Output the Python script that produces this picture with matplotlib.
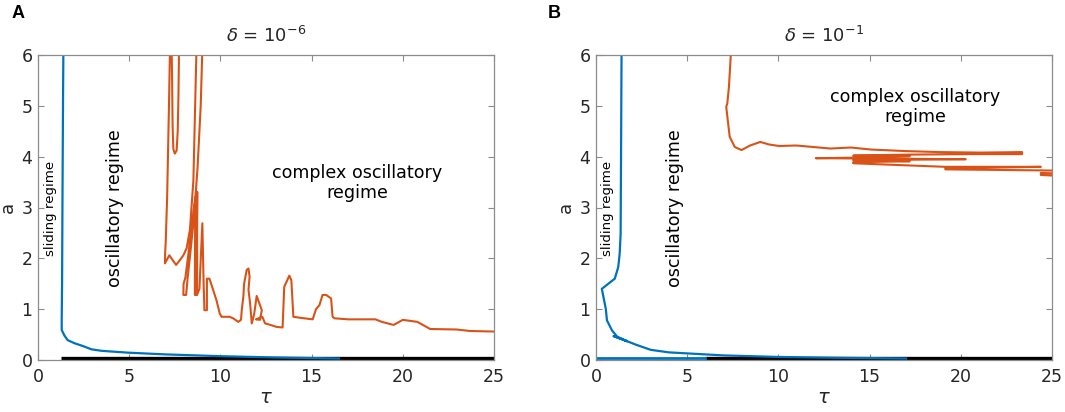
import numpy as np
from matplotlib import pyplot as plt

# ---- data ----
# panel A, delta = 1e-6
blue_a_tau = [1.39, 1.37, 1.34, 1.32, 1.30, 1.30, 1.45, 1.63, 2.0, 2.5, 2.93, 3.5, 4.96, 7.0, 10.0, 13.0, 16.5]
blue_a_a = [6.0, 5.0, 3.0, 1.5, 0.8, 0.59, 0.48, 0.39, 0.33, 0.27, 0.21, 0.18, 0.144, 0.11, 0.075, 0.05, 0.03]
black_a_tau = [1.26, 25.0]
black_a_a = [0.03, 0.03]
red_a_tau = [7.75, 7.70, 7.66, 7.60, 7.50, 7.42, 7.38, 7.35, 7.30,
             7.26, 7.18, 7.08, 7.00, 6.97, 6.96, 7.20, 7.57, 7.79, 7.97, 8.15, 8.33, 8.52, 8.72,
             9.05, 8.92, 8.75, 8.55, 8.35, 8.20, 8.12, 7.97, 7.98, 8.08, 8.25, 8.45, 8.62, 8.60,
             8.68, 8.73, 8.72, 8.85, 9.01, 9.08, 9.12, 9.12, 9.26, 9.26, 9.40, 9.60, 9.78, 9.96, 10.06,
             10.5, 10.7, 10.98, 11.13, 11.17, 11.26, 11.30, 11.44, 11.54, 11.60, 11.54, 11.63, 11.72, 11.85,
             11.99, 12.27, 12.17, 11.95, 12.30, 12.45, 12.74, 13.09, 13.41, 13.50, 13.78, 13.89, 14.0, 14.6,
             15.06, 15.24, 15.43, 15.6, 15.8, 16.07, 16.15, 16.26, 17.0, 18.5, 18.85, 19.5, 20.0, 20.8, 21.5,
             22.95, 23.7, 25.0]
red_a_a = [6.6, 5.2, 4.5, 4.12, 4.06, 4.15, 4.6, 5.6, 6.6,
           6.6, 5.0, 3.2, 2.3, 2.1, 1.9, 2.06, 1.87, 1.97, 2.06, 2.2, 2.56, 3.54, 6.6,
           6.6, 5.0, 3.8, 2.8, 2.1, 1.6, 1.28, 1.28, 1.5, 1.62, 2.1, 2.7, 3.2, 1.28,
           1.28, 3.31, 1.28, 1.4, 2.69, 1.5, 1.04, 0.98, 0.98, 1.6, 1.6, 1.38, 1.18, 0.92, 0.85,
           0.85, 0.82, 0.75, 0.79, 0.98, 1.25, 1.5, 1.77, 1.8, 1.64, 1.38, 1.11, 0.72, 0.9,
           1.26, 0.98, 0.79, 0.8, 0.85, 0.72, 0.69, 0.65, 0.64, 1.44, 1.66, 1.57, 0.85, 0.82,
           0.8, 1.0, 1.08, 1.28, 1.28, 1.21, 0.85, 0.82, 0.8, 0.8, 0.75, 0.69, 0.79, 0.75, 0.61,
           0.6, 0.57, 0.56]

# panel B, delta = 1e-1
blue_b_tau = [1.40, 1.38, 1.35, 1.30, 1.22, 1.03, 0.32, 0.54, 0.60, 0.88, 1.16, 1.70, 0.97, 1.70,
              2.2, 3.0, 4.0, 5.0, 7.0, 10.0, 13.0, 17.0]
blue_b_a = [6.0, 4.5, 2.48, 2.1, 1.83, 1.6, 1.4, 1.0, 0.78, 0.58, 0.46, 0.37, 0.47, 0.37,
            0.3, 0.2, 0.15, 0.13, 0.09, 0.06, 0.045, 0.03]
blue_b_base_tau = [0.0, 6.0]
blue_b_base_a = [0.03, 0.03]
black_b_tau = [6.0, 25.0]
black_b_a = [0.03, 0.03]
red_b_tau = [7.39, 7.39, 7.29, 7.20, 7.14, 7.33, 7.61, 7.98, 8.45, 9.01, 9.48, 10.04, 10.98, 11.91,
             12.85, 13.97, 15.09, 16.96, 18.83, 21.07, 23.36, 23.36, 20.5, 17.0, 14.1,
             17.2, 14.1, 12.05, 20.27, 14.1, 17.2, 14.1, 14.1, 19.15, 24.39, 19.15, 19.15, 24.39, 26.0,
             26.0, 24.39, 24.39, 26.0]
red_b_a = [6.2, 6.0, 5.38, 5.05, 4.98, 4.39, 4.19, 4.13, 4.22, 4.29, 4.24, 4.21, 4.22, 4.19,
           4.16, 4.18, 4.14, 4.11, 4.09, 4.08, 4.09, 4.05, 4.05, 4.04, 4.02,
           4.01, 3.98, 3.97, 3.95, 3.93, 3.91, 3.89, 3.87, 3.80, 3.80, 3.77, 3.75, 3.73, 3.72,
           3.66, 3.68, 3.64, 3.61]

BLUE = '#0072BD'
RED = '#D95319'
GRAY = '#8c8c8c'
TXT = '#262626'

plt.rcParams['font.family'] = ['DejaVu Sans']

fig = plt.figure(figsize=(10.65, 4.12), dpi=100)
ax_a = fig.add_axes([38/1065, 52/412, 456/1065, 305/412])
ax_b = fig.add_axes([596/1065, 52/412, 456/1065, 305/412])

ax_a.plot(black_a_tau, black_a_a, color='k', lw=2.4, solid_capstyle='butt')
ax_a.plot(blue_a_tau, blue_a_a, color=BLUE, lw=1.6)
ax_a.plot(red_a_tau, red_a_a, color=RED, lw=1.5)

ax_b.plot(black_b_tau, black_b_a, color='k', lw=2.4, solid_capstyle='butt')
ax_b.plot(blue_b_base_tau, blue_b_base_a, color=BLUE, lw=2.0)
ax_b.plot(blue_b_tau, blue_b_a, color=BLUE, lw=1.6)
ax_b.plot(red_b_tau, red_b_a, color=RED, lw=1.5)

for ax, ttl in [(ax_a, r'$\delta$ = 10$^{-6}$'), (ax_b, r'$\delta$ = 10$^{-1}$')]:
    ax.set_xlim(0, 25)
    ax.set_ylim(0, 6)
    ax.set_xticks([0, 5, 10, 15, 20, 25])
    ax.set_yticks([0, 1, 2, 3, 4, 5, 6])
    for s in ax.spines.values():
        s.set_color(GRAY)
        s.set_linewidth(0.9)
    ax.tick_params(direction='in', length=4, width=0.8, color=GRAY, labelcolor=TXT,
                   labelsize=12.5, top=True, right=True, pad=4)
    ax.tick_params(axis='x', pad=6)
    ax.set_title(ttl, fontsize=13, color=TXT, pad=9)
    ax.set_xlabel(r'$\tau$', fontsize=14, color=TXT, labelpad=1)
    ax.set_ylabel('a', fontsize=13, color=TXT, labelpad=3)

ax_a.text(0.66, 2.98, 'sliding regime', rotation=90, ha='center', va='center', fontsize=9.6, color='k')
ax_a.text(4.22, 2.98, 'oscillatory regime', rotation=90, ha='center', va='center', fontsize=12.6, color='k')
ax_a.text(17.5, 3.48, 'complex oscillatory\nregime', ha='center', va='center', fontsize=12.6,
          color='k', linespacing=1.15)

ax_b.text(0.65, 2.98, 'sliding regime', rotation=90, ha='center', va='center', fontsize=9.6, color='k')
ax_b.text(4.34, 2.98, 'oscillatory regime', rotation=90, ha='center', va='center', fontsize=12.6, color='k')
ax_b.text(17.52, 4.98, 'complex oscillatory\nregime', ha='center', va='center', fontsize=12.6,
          color='k', linespacing=1.15)

fig.text(12/1065, 1 - 14/412, 'A', fontsize=13, fontweight='bold', ha='left', va='center',
         family='Liberation Sans')
fig.text(548/1065, 1 - 14/412, 'B', fontsize=13, fontweight='bold', ha='left', va='center',
         family='Liberation Sans')

fig.savefig('out.png', dpi=100)
